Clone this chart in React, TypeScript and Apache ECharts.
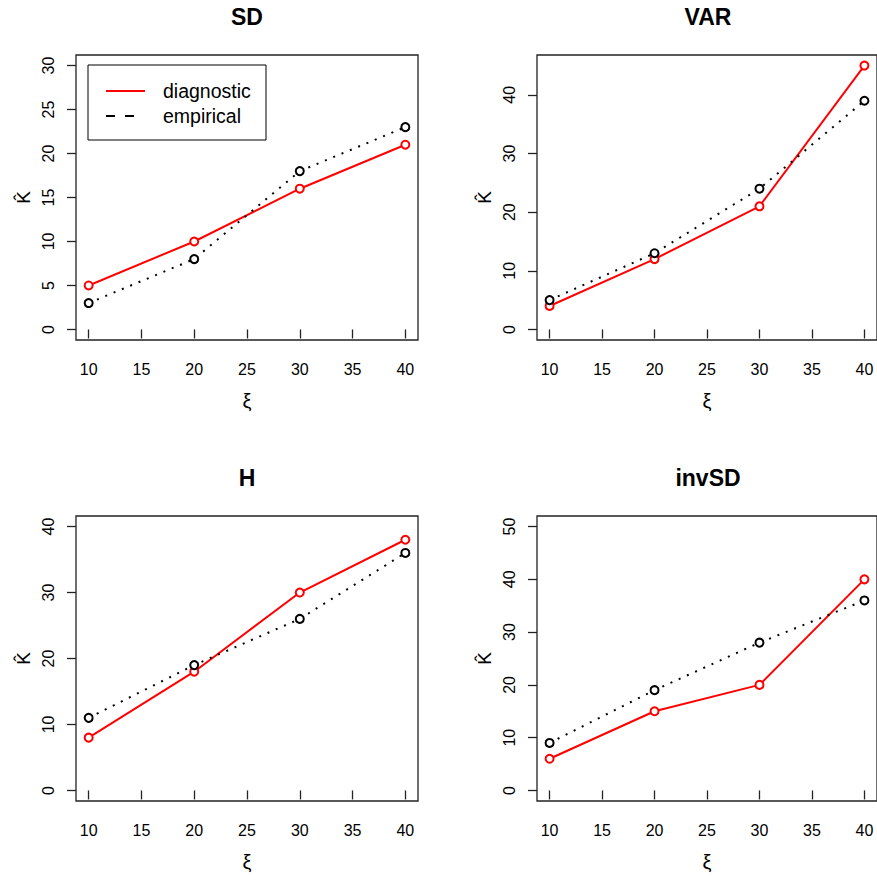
import React, { useEffect, useRef } from "react";
import * as echarts from "echarts";

// ---- data ----
const xValues = [10, 20, 30, 40];
const xTicks = [10, 15, 20, 25, 30, 35, 40];
const panelTitles = ["SD", "VAR", "H", "invSD"];

const diagSD = [5, 10, 16, 21];
const empSD = [3, 8, 18, 23];
const diagVAR = [4, 12, 21, 45];
const empVAR = [5, 13, 24, 39];
const diagH = [8, 18, 30, 38];
const empH = [11, 19, 26, 36];
const diagInvSD = [6, 15, 20, 40];
const empInvSD = [9, 19, 28, 36];

const yTicksSD = [0, 5, 10, 15, 20, 25, 30];
const yTicksVAR = [0, 10, 20, 30, 40];
const yTicksH = [0, 10, 20, 30, 40];
const yTicksInvSD = [0, 10, 20, 30, 40, 50];

const yLimSD = [0, 30];
const yLimVAR = [0, 45];
const yLimH = [0, 40];
const yLimInvSD = [0, 50];
const xLim = [10, 40];

const legendLabels = ["diagnostic", "empirical"];

// ---- layout ----
const FONT = "Liberation Sans, Arial, Helvetica, sans-serif";
const grids = [
  { left: 76, top: 55 },
  { left: 537, top: 55 },
  { left: 76, top: 516 },
  { left: 537, top: 516 },
];
const GW = 342;
const GH = 285;

const diagAll = [diagSD, diagVAR, diagH, diagInvSD];
const empAll = [empSD, empVAR, empH, empInvSD];
const yTicksAll = [yTicksSD, yTicksVAR, yTicksH, yTicksInvSD];
const yLimAll = [yLimSD, yLimVAR, yLimH, yLimInvSD];

const ext = (lim: number[]) => {
  const d = (lim[1] - lim[0]) * 0.04;
  return [lim[0] - d, lim[1] + d];
};

export default function App() {
  const ref = useRef<HTMLDivElement>(null);
  useEffect(() => {
    if (!ref.current) return;
    const chart = echarts.init(ref.current, undefined, { renderer: "svg" });
    const xr = ext(xLim);
    const option: any = {
      animation: false,
      backgroundColor: "#fff",
      textStyle: { fontFamily: FONT },
      grid: grids.map((g) => ({
        left: g.left,
        top: g.top,
        width: GW,
        height: GH,
        show: true,
        borderColor: "#222",
        borderWidth: 1.3,
        backgroundColor: "transparent",
        containLabel: false,
      })),
      xAxis: grids.map((_, i) => ({
        type: "value",
        gridIndex: i,
        min: xr[0],
        max: xr[1],
        name: "ξ",
        nameLocation: "middle",
        nameGap: 51,
        nameTextStyle: { fontSize: 20, color: "#000", fontFamily: FONT },
        axisLine: { show: false },
        splitLine: { show: false },
        axisTick: {
          show: true,
          inside: false,
          length: 9,
          customValues: xTicks,
          lineStyle: { color: "#222", width: 1.3 },
        },
        axisLabel: {
          show: true,
          margin: 21,
          fontSize: 16,
          color: "#000",
          fontFamily: FONT,
          customValues: xTicks,
        },
      })),
      yAxis: grids.map((_, i) => {
        const yr = ext(yLimAll[i]);
        return {
          type: "value",
          gridIndex: i,
          min: yr[0],
          max: yr[1],
          name: "K\u0302",
          nameLocation: "middle",
          nameRotate: 90,
          nameGap: 43,
          nameTextStyle: { fontSize: 19, color: "#000", fontFamily: FONT },
          axisLine: { show: false },
          splitLine: { show: false },
          axisTick: {
            show: true,
            inside: false,
            length: 9,
            customValues: yTicksAll[i],
            lineStyle: { color: "#222", width: 1.3 },
          },
          axisLabel: {
            show: true,
            rotate: 90,
            margin: 20,
            fontSize: 16,
            color: "#000",
            fontFamily: FONT,
            customValues: yTicksAll[i],
          },
        };
      }),
      series: grids.flatMap((_, i) => [
        {
          type: "line",
          name: legendLabels[0],
          xAxisIndex: i,
          yAxisIndex: i,
          data: xValues.map((x, j) => [x, diagAll[i][j]]),
          symbol: "circle",
          symbolSize: 8,
          lineStyle: { color: "#ff0000", width: 2 },
          itemStyle: { color: "#fff", borderColor: "#ff0000", borderWidth: 2 },
          z: 2,
        },
        {
          type: "line",
          name: legendLabels[1],
          xAxisIndex: i,
          yAxisIndex: i,
          data: xValues.map((x, j) => [x, empAll[i][j]]),
          symbol: "circle",
          symbolSize: 8,
          lineStyle: { color: "#000", width: 2, type: [2, 7] },
          itemStyle: { color: "#fff", borderColor: "#000", borderWidth: 2 },
          z: 3,
        },
      ]),
      graphic: [
        ...grids.map((g, i) => ({
          type: "text",
          x: g.left + GW / 2,
          y: g.top - 38,
          style: {
            text: panelTitles[i],
            font: `bold 23px ${FONT}`,
            fill: "#000",
            textAlign: "center",
            textVerticalAlign: "middle",
          },
        })),
        {
          type: "rect",
          shape: { x: 88, y: 65, width: 178, height: 75 },
          style: { fill: "#fff", stroke: "#000", lineWidth: 1 },
          z: 10,
        },
        {
          type: "line",
          shape: { x1: 106, y1: 91, x2: 145, y2: 91 },
          style: { stroke: "#ff0000", lineWidth: 2 },
          z: 11,
        },
        {
          type: "line",
          shape: { x1: 106, y1: 116, x2: 143, y2: 116 },
          style: { stroke: "#000", lineWidth: 2, lineDash: [9, 10] },
          z: 11,
        },
        {
          type: "text",
          x: 163,
          y: 91,
          style: {
            text: legendLabels[0],
            font: `19.5px ${FONT}`,
            fill: "#000",
            textVerticalAlign: "middle",
          },
          z: 11,
        },
        {
          type: "text",
          x: 163,
          y: 116,
          style: {
            text: legendLabels[1],
            font: `19.5px ${FONT}`,
            fill: "#000",
            textVerticalAlign: "middle",
          },
          z: 11,
        },
      ],
    };
    chart.setOption(option);
    return () => chart.dispose();
  }, []);
  return (
    <div
      ref={ref}
      style={{ position: "absolute", left: 0, top: 0, width: 877, height: 880 }}
    />
  );
}
